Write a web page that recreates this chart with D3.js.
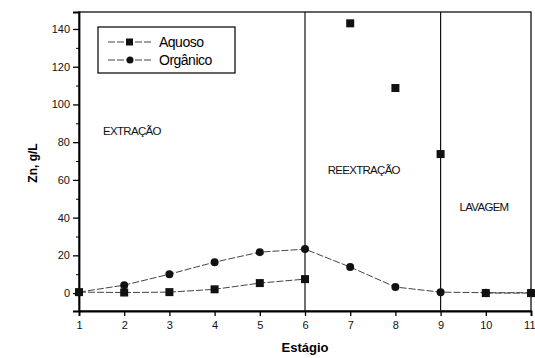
<!DOCTYPE html>
<html><head><meta charset="utf-8">
<script src="https://cdn.jsdelivr.net/npm/d3@7"></script>
<style>body{margin:0;background:#fff}svg{display:block;font-family:"Liberation Sans",Arial,sans-serif}</style>
</head><body><svg id="c" width="535" height="358"></svg>
<script>
const stages = [1,2,3,4,5,6,7,8,9,10,11];
const aquosoLine = [[1,0.5],[2,0.3],[3,0.5],[4,2],[5,5.3],[6,7.4]];
const aquosoPts = [[7,143],[8,108.7],[9,73.7]];
const aquosoWash = [[10,0],[11,0]];
const organico = [[1,0.5],[2,4.2],[3,10],[4,16.4],[5,21.7],[6,23.3],[7,13.8],[8,3.2],[9,0.5],[10,0.2],[11,0.2]];
const yTicks = [0,20,40,60,80,100,120,140];
const dividers = [6,9];
const regions = [{t:"EXTRAÇÃO",x:2.17,y:84},{t:"REEXTRAÇÃO",x:7.3,y:63},{t:"LAVAGEM",x:9.96,y:43.5}];

const svg = d3.select("#c");
const L=79,R=531,T=12,B=311;
const x = d3.scaleLinear().domain([1,11]).range([L,R]);
const y = d3.scaleLinear().domain([-9.5,149]).range([B,T]);

svg.append("rect").attr("x",L).attr("y",T).attr("width",R-L).attr("height",B-T).attr("fill","none").attr("stroke","#111").attr("stroke-width",1.3);

const ya = svg.append("g").attr("transform",`translate(${L},0)`)
  .call(d3.axisLeft(y).tickValues(yTicks).tickSize(6).tickPadding(3).tickFormat(d3.format("d")));
ya.select(".domain").attr("stroke-width",1.8);
ya.selectAll("text").attr("font-size",11).attr("fill","#111");
ya.selectAll("line").attr("stroke-width",1.3);
svg.append("g").attr("transform",`translate(${L},0)`)
  .call(d3.axisLeft(y).tickValues(d3.range(-10,150,10).filter(v=>v%20!==0 && v>=-9)).tickSize(3).tickFormat(""))
  .call(g=>g.select(".domain").remove());

const xa = svg.append("g").attr("transform",`translate(0,${B})`)
  .call(d3.axisBottom(x).tickValues(stages).tickSize(5).tickPadding(5).tickFormat(d3.format("d")));
xa.select(".domain").attr("stroke-width",1.8);
xa.selectAll("text").attr("font-size",11).attr("fill","#111");
xa.selectAll("line").attr("stroke-width",1.3);
xa.selectAll(".tick").filter(d=>d===11).select("text").attr("text-anchor","end").attr("dx",4);

dividers.forEach(d=>svg.append("line").attr("x1",x(d)).attr("x2",x(d)).attr("y1",T).attr("y2",B).attr("stroke","#111").attr("stroke-width",1.2));

svg.append("text").attr("x",x(6)).attr("y",352).attr("text-anchor","middle").attr("font-size",13).attr("font-weight","bold").text("Estágio");
svg.append("text").attr("transform",`translate(37,163) rotate(-90)`).attr("text-anchor","middle").attr("font-size",12).attr("font-weight","bold").text("Zn, g/L");

regions.forEach(r=>svg.append("text").attr("x",x(r.x)).attr("y",y(r.y)).attr("text-anchor","middle").attr("font-size",11.5).attr("letter-spacing",-0.7).attr("fill","#111").text(r.t));

const line = d3.line().x(d=>x(d[0])).y(d=>y(d[1]));
function path(data){svg.append("path").datum(data).attr("d",line).attr("stroke","#444").attr("stroke-width",1).attr("stroke-dasharray","7,2").attr("fill","none");}
path(organico); path(aquosoLine); path(aquosoWash);

svg.append("g").selectAll("circle").data(organico).join("circle").attr("cx",d=>x(d[0])).attr("cy",d=>y(d[1])).attr("r",4).attr("fill","#111");
svg.append("g").selectAll("rect").data(aquosoLine.concat(aquosoPts,aquosoWash)).join("rect")
  .attr("x",d=>x(d[0])-4).attr("y",d=>y(d[1])-4).attr("width",8).attr("height",8).attr("fill","#111");

const lg = svg.append("g");
lg.append("rect").attr("x",98).attr("y",27).attr("width",137).attr("height",46).attr("fill","#fff").attr("stroke","#111").attr("stroke-width",1.3);
[["Aquoso","sq",42],["Orgânico","ci",60]].forEach(([t,s,yy])=>{
  lg.append("line").attr("x1",108).attr("x2",152).attr("y1",yy).attr("y2",yy).attr("stroke","#444").attr("stroke-width",1).attr("stroke-dasharray","7,2");
  if(s==="sq") lg.append("rect").attr("x",126).attr("y",yy-3.5).attr("width",7).attr("height",7).attr("fill","#111");
  else lg.append("circle").attr("cx",130).attr("cy",yy).attr("r",3.5).attr("fill","#111");
  lg.append("text").attr("x",159).attr("y",yy+5).attr("font-size",14).attr("letter-spacing",-0.5).text(t);
});
</script></body></html>
